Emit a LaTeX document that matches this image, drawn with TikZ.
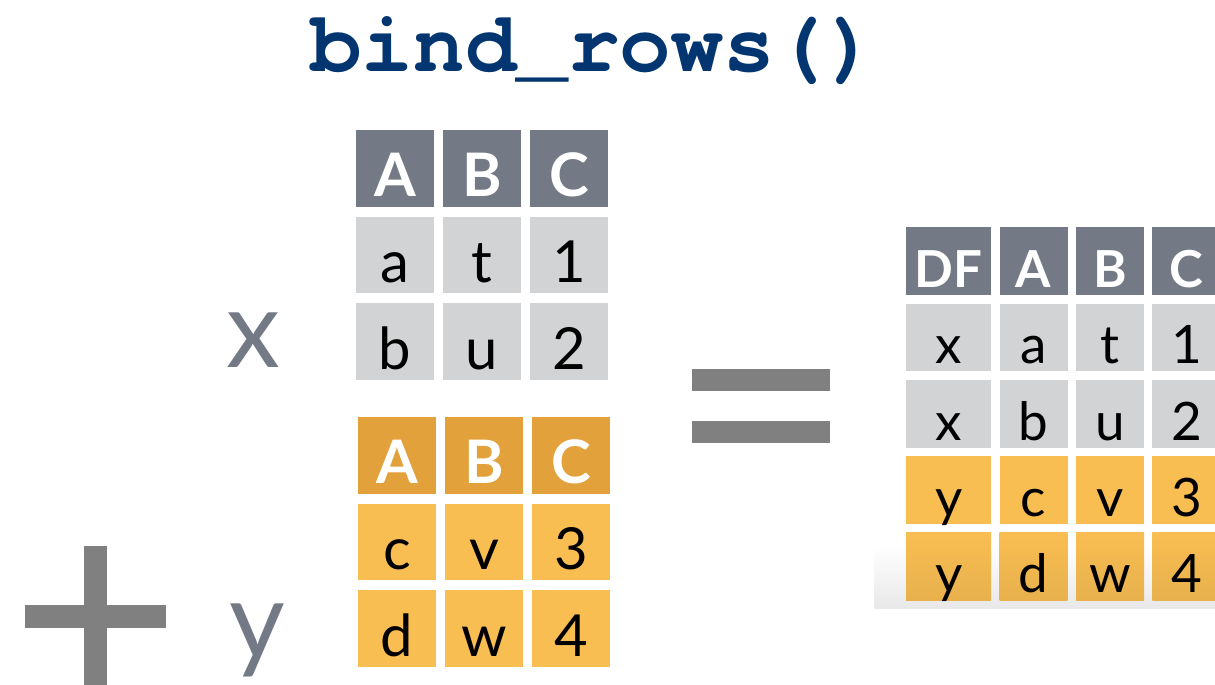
\documentclass[tikz,border=0pt]{standalone}
\usepackage{fontspec}
\usetikzlibrary{positioning}
\newfontfamily\cellfont{Lato}
\newfontfamily\codefont{TeX Gyre Cursor}
\definecolor{headgrey}{HTML}{737A85}
\definecolor{cellgrey}{HTML}{D1D3D4}
\definecolor{headorange}{HTML}{E2A13B}
\definecolor{cellorange}{HTML}{F9BE52}
\definecolor{opgrey}{HTML}{808080}
\definecolor{titleblue}{HTML}{033670}

\begin{document}
\begin{tikzpicture}[x=1pt,y=-1pt,node distance=9.5pt and 8.5pt,
    cell/.style={rectangle,inner sep=0pt,minimum width=78pt,minimum height=76.5pt,
      text height=56pt,text depth=0pt,font=\cellfont\fontsize{58}{58}\selectfont},
    grey node/.style={cell,fill=cellgrey},
    orange node/.style={cell,fill=cellorange},
    grey head/.style={cell,fill=headgrey,text=white,font=\cellfont\bfseries\fontsize{60}{60}\selectfont},
    orange head/.style={cell,fill=headorange,text=white,font=\cellfont\bfseries\fontsize{60}{60}\selectfont},
    small node/.style={minimum width=68pt,minimum height=67.5pt,text height=52.5pt,
      font=\cellfont\fontsize{53}{53}\selectfont},
    small head/.style={small node,font=\cellfont\bfseries\fontsize{51}{51}\selectfont},
    last row/.style={top color=cellorange,bottom color=cellorange!93!black},
    label node/.style={text=headgrey,anchor=base,font=\cellfont\fontsize{108}{108}\selectfont},
    bar/.style={fill=opgrey}]

  \useasboundingbox (0,0) rectangle (1215,685);

  \node[text=titleblue,anchor=base,font=\codefont\bfseries\fontsize{86}{86}\selectfont] (title) at (594,71) {bind\_rows()};

  % table x
  \node[grey head,anchor=north west] (xa0) at (356,130) {A};
  \node[grey head,right=of xa0] (xb0) {B};
  \node[grey head,right=of xb0] (xc0) {C};
  \node[grey node,below=of xa0] (xa1) {a};
  \node[grey node,right=of xa1] (xb1) {t};
  \node[grey node,right=of xb1] (xc1) {1};
  \node[grey node,below=of xa1] (xa2) {b};
  \node[grey node,right=of xa2] (xb2) {u};
  \node[grey node,right=of xb2] (xc2) {2};

  % table y
  \node[orange head,anchor=north west] (ya0) at (358,417) {A};
  \node[orange head,right=of ya0] (yb0) {B};
  \node[orange head,right=of yb0] (yc0) {C};
  \node[orange node,below=of ya0] (ya1) {c};
  \node[orange node,right=of ya1] (yb1) {v};
  \node[orange node,right=of yb1] (yc1) {3};
  \node[orange node,below=of ya1] (ya2) {d};
  \node[orange node,right=of ya2] (yb2) {w};
  \node[orange node,right=of yb2] (yc2) {4};

  \node[label node] (xlab) at (253,367) {x};
  \node[label node] (ylab) at (257,658) {y};

  % + and =
  \fill[bar] (25,605) rectangle (166,628);
  \fill[bar] (84,546) rectangle (107,690);
  \fill[bar] (692,369) rectangle (830,391);
  \fill[bar] (692,421) rectangle (830,443);

  % result, with its soft shadow underneath
  \shade[top color=white,bottom color=black!9] (874,545) rectangle (1215,608);
  \begin{scope}[node distance=8.5pt and 8pt]
    \node[grey head,small head,minimum width=85pt,anchor=north west] (df0) at (906,227) {DF};
    \node[grey head,small head,right=of df0] (a0) {A};
    \node[grey head,small head,right=of a0] (b0) {B};
    \node[grey head,small head,right=of b0] (c0) {C};
    \node[grey node,small node,minimum width=85pt,below=of df0] (df1) {x};
    \node[grey node,small node,right=of df1] (a1) {a};
    \node[grey node,small node,right=of a1] (b1) {t};
    \node[grey node,small node,right=of b1] (c1) {1};
    \node[grey node,small node,minimum width=85pt,below=of df1] (df2) {x};
    \node[grey node,small node,right=of df2] (a2) {b};
    \node[grey node,small node,right=of a2] (b2) {u};
    \node[grey node,small node,right=of b2] (c2) {2};
    \node[orange node,small node,minimum width=85pt,below=of df2] (df3) {y};
    \node[orange node,small node,right=of df3] (a3) {c};
    \node[orange node,small node,right=of a3] (b3) {v};
    \node[orange node,small node,right=of b3] (c3) {3};
    \node[orange node,small node,last row,minimum width=85pt,below=of df3] (df4) {y};
    \node[orange node,small node,last row,right=of df4] (a4) {d};
    \node[orange node,small node,last row,right=of a4] (b4) {w};
    \node[orange node,small node,last row,right=of b4] (c4) {4};
  \end{scope}
\end{tikzpicture}
\end{document}
